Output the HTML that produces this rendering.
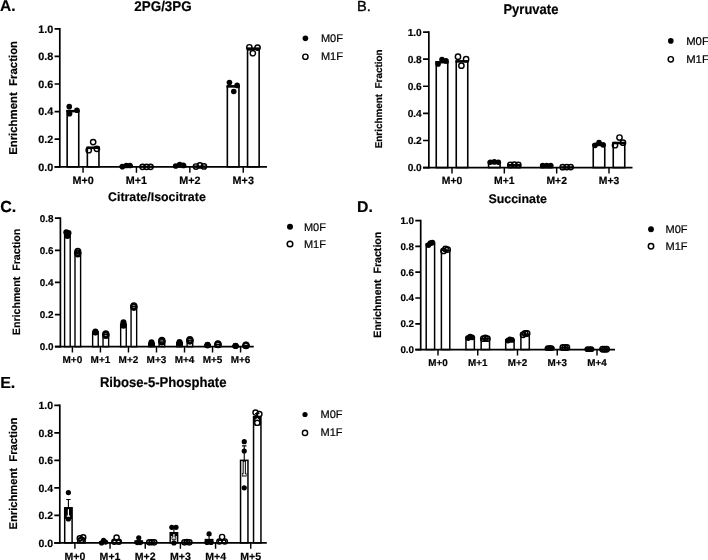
<!DOCTYPE html>
<html><head><meta charset="utf-8"><title>Enrichment Fraction</title>
<style>
html,body{margin:0;padding:0;background:#fff;width:708px;height:560px;overflow:hidden}
svg{display:block}
text{text-rendering:geometricPrecision;font-family:"Liberation Sans", sans-serif;fill:#000}
text[font-weight="bold"]{stroke:#000;stroke-width:0.18px}
</style></head><body>
<svg width="708" height="560" viewBox="0 0 708 560">
<rect width="708" height="560" fill="#fff"/>
<rect x="67.15" y="110.77" width="11.6" height="56.03" fill="#fff" stroke="#000" stroke-width="1.6"/>
<rect x="66.35" y="109.97" width="13.2" height="2.4" fill="#000"/>
<circle cx="69.25" cy="106.63" r="2.8" fill="#000"/>
<circle cx="69.55" cy="113.67" r="2.8" fill="#000"/>
<circle cx="76.95" cy="110.22" r="2.8" fill="#000"/>
<rect x="87.35" y="147.48" width="11.6" height="19.32" fill="#fff" stroke="#000" stroke-width="1.6"/>
<rect x="86.55" y="146.68" width="13.2" height="2.4" fill="#000"/>
<circle cx="93.15" cy="142.1" r="2.65" fill="none" stroke="#000" stroke-width="1.45"/>
<circle cx="88.75" cy="150.24" r="2.65" fill="none" stroke="#000" stroke-width="1.45"/>
<circle cx="96.85" cy="148.86" r="2.65" fill="none" stroke="#000" stroke-width="1.45"/>
<rect x="120.55" y="165.7" width="11.6" height="1.1" fill="#fff" stroke="#000" stroke-width="1.6"/>
<circle cx="122.35" cy="166.66" r="2.8" fill="#000"/>
<circle cx="126.35" cy="165.56" r="2.8" fill="#000"/>
<circle cx="129.95" cy="165.56" r="2.8" fill="#000"/>
<rect x="140.75" y="166.52" width="11.6" height="0.28" fill="#fff" stroke="#000" stroke-width="1.6"/>
<circle cx="142.55" cy="166.8" r="2.65" fill="none" stroke="#000" stroke-width="1.45"/>
<circle cx="146.55" cy="166.8" r="2.65" fill="none" stroke="#000" stroke-width="1.45"/>
<circle cx="150.55" cy="166.8" r="2.65" fill="none" stroke="#000" stroke-width="1.45"/>
<rect x="173.95" y="165.42" width="11.6" height="1.38" fill="#fff" stroke="#000" stroke-width="1.6"/>
<circle cx="175.75" cy="165.97" r="2.8" fill="#000"/>
<circle cx="179.75" cy="164.45" r="2.8" fill="#000"/>
<circle cx="183.35" cy="165.42" r="2.8" fill="#000"/>
<rect x="194.15" y="166.25" width="11.6" height="0.55" fill="#fff" stroke="#000" stroke-width="1.6"/>
<circle cx="195.95" cy="166.52" r="2.65" fill="none" stroke="#000" stroke-width="1.45"/>
<circle cx="199.95" cy="165.42" r="2.65" fill="none" stroke="#000" stroke-width="1.45"/>
<circle cx="203.95" cy="166.39" r="2.65" fill="none" stroke="#000" stroke-width="1.45"/>
<rect x="227.35" y="86.07" width="11.6" height="80.73" fill="#fff" stroke="#000" stroke-width="1.6"/>
<rect x="226.55" y="85.27" width="13.2" height="2.4" fill="#000"/>
<circle cx="229.45" cy="82.62" r="2.8" fill="#000"/>
<circle cx="233.75" cy="91.45" r="2.8" fill="#000"/>
<circle cx="237.15" cy="85.38" r="2.8" fill="#000"/>
<rect x="247.55" y="48.4" width="11.6" height="118.4" fill="#fff" stroke="#000" stroke-width="1.6"/>
<rect x="246.75" y="47.6" width="13.2" height="2.4" fill="#000"/>
<circle cx="249.35" cy="47.29" r="2.65" fill="none" stroke="#000" stroke-width="1.45"/>
<circle cx="257.55" cy="47.57" r="2.65" fill="none" stroke="#000" stroke-width="1.45"/>
<circle cx="252.85" cy="53.23" r="2.65" fill="none" stroke="#000" stroke-width="1.45"/>
<path d="M59.8 28.8V166.8" stroke="#000" stroke-width="1.7" fill="none" stroke-linecap="square"/>
<path d="M54.6 166.8H267" stroke="#000" stroke-width="1.7" fill="none"/>
<path d="M54.6 166.8H59.8M54.6 139.2H59.8M54.6 111.6H59.8M54.6 84H59.8M54.6 56.4H59.8M54.6 28.8H59.8" stroke="#000" stroke-width="1.7" fill="none"/>
<text x="53.2" y="166.8" dy="0.355em" text-anchor="end" font-size="10.8" font-weight="bold">0.0</text>
<text x="53.2" y="139.2" dy="0.355em" text-anchor="end" font-size="10.8" font-weight="bold">0.2</text>
<text x="53.2" y="111.6" dy="0.355em" text-anchor="end" font-size="10.8" font-weight="bold">0.4</text>
<text x="53.2" y="84" dy="0.355em" text-anchor="end" font-size="10.8" font-weight="bold">0.6</text>
<text x="53.2" y="56.4" dy="0.355em" text-anchor="end" font-size="10.8" font-weight="bold">0.8</text>
<text x="53.2" y="28.8" dy="0.355em" text-anchor="end" font-size="10.8" font-weight="bold">1.0</text>
<path d="M83.05 166.8V172.85M136.45 166.8V172.85M189.85 166.8V172.85M243.25 166.8V172.85" stroke="#000" stroke-width="1.44" fill="none"/>
<text x="83.05" y="183.9" text-anchor="middle" font-size="10.8" font-weight="bold">M+0</text>
<text x="136.45" y="183.9" text-anchor="middle" font-size="10.8" font-weight="bold">M+1</text>
<text x="189.85" y="183.9" text-anchor="middle" font-size="10.8" font-weight="bold">M+2</text>
<text x="243.25" y="183.9" text-anchor="middle" font-size="10.8" font-weight="bold">M+3</text>
<text transform="translate(17.3 97.9) rotate(-90)" text-anchor="middle" font-size="11.4" font-weight="bold" style="white-space:pre">Enrichment  Fraction</text>
<text transform="translate(163 10.5) scale(1 1.05)" text-anchor="middle" font-size="13.4" font-weight="bold">2PG/3PG</text>
<text x="0" y="11.4" font-size="15.5" font-weight="bold">A.</text>
<circle cx="305.4" cy="38.35" r="2.8" fill="#000"/>
<circle cx="305.4" cy="56.75" r="2.65" fill="none" stroke="#000" stroke-width="1.45"/>
<text x="320.9" y="41.8" font-size="11" stroke="#000" stroke-width="0.2">M0F</text>
<text x="320.9" y="60.1" font-size="11" stroke="#000" stroke-width="0.2">M1F</text>
<rect x="436.25" y="61.87" width="11.5" height="105.73" fill="#fff" stroke="#000" stroke-width="1.6"/>
<rect x="435.45" y="61.07" width="13.1" height="2.4" fill="#000"/>
<circle cx="438.1" cy="63.9" r="2.8" fill="#000"/>
<circle cx="442" cy="59.57" r="2.8" fill="#000"/>
<circle cx="446" cy="60.92" r="2.8" fill="#000"/>
<rect x="456.25" y="61.06" width="11.5" height="106.54" fill="#fff" stroke="#000" stroke-width="1.6"/>
<rect x="455.45" y="60.26" width="13.1" height="2.4" fill="#000"/>
<circle cx="458" cy="56.72" r="2.65" fill="none" stroke="#000" stroke-width="1.45"/>
<circle cx="466.1" cy="59.16" r="2.65" fill="none" stroke="#000" stroke-width="1.45"/>
<circle cx="461.4" cy="65.67" r="2.65" fill="none" stroke="#000" stroke-width="1.45"/>
<rect x="488.58" y="162.18" width="11.5" height="5.42" fill="#fff" stroke="#000" stroke-width="1.6"/>
<rect x="487.78" y="161.38" width="13.1" height="2.4" fill="#000"/>
<circle cx="490.33" cy="162.18" r="2.8" fill="#000"/>
<circle cx="494.33" cy="161.91" r="2.8" fill="#000"/>
<circle cx="498.33" cy="162.18" r="2.8" fill="#000"/>
<rect x="508.58" y="164.89" width="11.5" height="2.71" fill="#fff" stroke="#000" stroke-width="1.6"/>
<rect x="507.78" y="164.09" width="13.1" height="2.4" fill="#000"/>
<circle cx="510.33" cy="164.89" r="2.65" fill="none" stroke="#000" stroke-width="1.45"/>
<circle cx="514.33" cy="164.62" r="2.65" fill="none" stroke="#000" stroke-width="1.45"/>
<circle cx="518.33" cy="164.89" r="2.65" fill="none" stroke="#000" stroke-width="1.45"/>
<rect x="540.92" y="165.57" width="11.5" height="2.03" fill="#fff" stroke="#000" stroke-width="1.6"/>
<circle cx="542.67" cy="165.57" r="2.8" fill="#000"/>
<circle cx="546.67" cy="165.43" r="2.8" fill="#000"/>
<circle cx="550.67" cy="165.57" r="2.8" fill="#000"/>
<rect x="560.92" y="167.06" width="11.5" height="0.54" fill="#fff" stroke="#000" stroke-width="1.6"/>
<circle cx="562.67" cy="167.19" r="2.65" fill="none" stroke="#000" stroke-width="1.45"/>
<circle cx="566.67" cy="167.06" r="2.65" fill="none" stroke="#000" stroke-width="1.45"/>
<circle cx="570.67" cy="167.06" r="2.65" fill="none" stroke="#000" stroke-width="1.45"/>
<rect x="593.25" y="144.56" width="11.5" height="23.04" fill="#fff" stroke="#000" stroke-width="1.6"/>
<rect x="592.45" y="143.76" width="13.1" height="2.4" fill="#000"/>
<circle cx="595.1" cy="145.37" r="2.8" fill="#000"/>
<circle cx="599" cy="142.66" r="2.8" fill="#000"/>
<circle cx="603" cy="144.83" r="2.8" fill="#000"/>
<rect x="613.25" y="142.66" width="11.5" height="24.94" fill="#fff" stroke="#000" stroke-width="1.6"/>
<rect x="612.45" y="141.86" width="13.1" height="2.4" fill="#000"/>
<circle cx="619.5" cy="137.51" r="2.65" fill="none" stroke="#000" stroke-width="1.45"/>
<circle cx="623" cy="142.66" r="2.65" fill="none" stroke="#000" stroke-width="1.45"/>
<circle cx="615" cy="145.23" r="2.65" fill="none" stroke="#000" stroke-width="1.45"/>
<path d="M428.85 32.05V167.6" stroke="#000" stroke-width="1.7" fill="none" stroke-linecap="square"/>
<path d="M423.05 167.6H632.5" stroke="#000" stroke-width="1.7" fill="none"/>
<path d="M423.05 167.6H428.85M423.05 140.49H428.85M423.05 113.38H428.85M423.05 86.27H428.85M423.05 59.16H428.85M423.05 32.05H428.85" stroke="#000" stroke-width="1.7" fill="none"/>
<text x="421.8" y="167.6" dy="0.355em" text-anchor="end" font-size="10.2" font-weight="bold">0.0</text>
<text x="421.8" y="140.49" dy="0.355em" text-anchor="end" font-size="10.2" font-weight="bold">0.2</text>
<text x="421.8" y="113.38" dy="0.355em" text-anchor="end" font-size="10.2" font-weight="bold">0.4</text>
<text x="421.8" y="86.27" dy="0.355em" text-anchor="end" font-size="10.2" font-weight="bold">0.6</text>
<text x="421.8" y="59.16" dy="0.355em" text-anchor="end" font-size="10.2" font-weight="bold">0.8</text>
<text x="421.8" y="32.05" dy="0.355em" text-anchor="end" font-size="10.2" font-weight="bold">1.0</text>
<path d="M452 167.6V173.55M504.33 167.6V173.55M556.67 167.6V173.55M609 167.6V173.55" stroke="#000" stroke-width="1.44" fill="none"/>
<text x="452" y="184.2" text-anchor="middle" font-size="10.4" font-weight="bold">M+0</text>
<text x="504.33" y="184.2" text-anchor="middle" font-size="10.4" font-weight="bold">M+1</text>
<text x="556.67" y="184.2" text-anchor="middle" font-size="10.4" font-weight="bold">M+2</text>
<text x="609" y="184.2" text-anchor="middle" font-size="10.4" font-weight="bold">M+3</text>
<text transform="translate(381.7 98.9) rotate(-90)" text-anchor="middle" font-size="9.9" font-weight="bold" style="white-space:pre">Enrichment  Fraction</text>
<text transform="translate(530.9 13.6) scale(1 1.08)" text-anchor="middle" font-size="13.0" font-weight="bold">Pyruvate</text>
<text x="357" y="11.4" font-size="14.6" font-weight="normal" stroke="#000" stroke-width="0.35">B.</text>
<circle cx="670.8" cy="40.9" r="2.8" fill="#000"/>
<circle cx="670.8" cy="59.3" r="2.65" fill="none" stroke="#000" stroke-width="1.45"/>
<text x="686.2" y="44.5" font-size="11.3" stroke="#000" stroke-width="0.2">M0F</text>
<text x="686.2" y="63" font-size="11.3" stroke="#000" stroke-width="0.2">M1F</text>
<rect x="64.6" y="233.8" width="5.6" height="112.9" fill="#fff" stroke="#000" stroke-width="1.4"/>
<circle cx="66.3" cy="232.35" r="3.0" fill="#000"/>
<circle cx="68.5" cy="233" r="3.0" fill="#000"/>
<circle cx="67.4" cy="235.89" r="3.0" fill="#000"/>
<rect x="75" y="252.75" width="5.6" height="93.95" fill="#fff" stroke="#000" stroke-width="1.4"/>
<circle cx="77.8" cy="251.3" r="2.8" fill="none" stroke="#000" stroke-width="1.5"/>
<circle cx="77.8" cy="252.75" r="2.8" fill="none" stroke="#000" stroke-width="1.5"/>
<circle cx="77.8" cy="253.87" r="2.8" fill="none" stroke="#000" stroke-width="1.5"/>
<rect x="92.63" y="332.25" width="5.6" height="14.45" fill="#fff" stroke="#000" stroke-width="1.4"/>
<circle cx="95.43" cy="331.44" r="3.0" fill="#000"/>
<circle cx="95.43" cy="332.25" r="3.0" fill="#000"/>
<circle cx="95.43" cy="332.57" r="3.0" fill="#000"/>
<rect x="103.03" y="334.65" width="5.6" height="12.05" fill="#fff" stroke="#000" stroke-width="1.4"/>
<circle cx="105.83" cy="333.85" r="2.8" fill="none" stroke="#000" stroke-width="1.5"/>
<circle cx="105.83" cy="334.65" r="2.8" fill="none" stroke="#000" stroke-width="1.5"/>
<circle cx="105.83" cy="335.46" r="2.8" fill="none" stroke="#000" stroke-width="1.5"/>
<rect x="120.66" y="324.22" width="5.6" height="22.48" fill="#fff" stroke="#000" stroke-width="1.4"/>
<circle cx="123.46" cy="322.29" r="3.0" fill="#000"/>
<circle cx="123.46" cy="324.22" r="3.0" fill="#000"/>
<circle cx="123.46" cy="325.82" r="3.0" fill="#000"/>
<rect x="131.06" y="306.55" width="5.6" height="40.15" fill="#fff" stroke="#000" stroke-width="1.4"/>
<circle cx="133.86" cy="305.75" r="2.8" fill="none" stroke="#000" stroke-width="1.5"/>
<circle cx="133.86" cy="306.55" r="2.8" fill="none" stroke="#000" stroke-width="1.5"/>
<circle cx="133.86" cy="307.35" r="2.8" fill="none" stroke="#000" stroke-width="1.5"/>
<rect x="148.69" y="343.49" width="5.6" height="3.21" fill="#fff" stroke="#000" stroke-width="1.4"/>
<circle cx="151.49" cy="342.2" r="3.0" fill="#000"/>
<circle cx="151.49" cy="343.49" r="3.0" fill="#000"/>
<circle cx="151.49" cy="344.29" r="3.0" fill="#000"/>
<rect x="159.09" y="341.08" width="5.6" height="5.62" fill="#fff" stroke="#000" stroke-width="1.4"/>
<circle cx="161.89" cy="340.28" r="2.8" fill="none" stroke="#000" stroke-width="1.5"/>
<circle cx="161.89" cy="341.08" r="2.8" fill="none" stroke="#000" stroke-width="1.5"/>
<circle cx="161.89" cy="341.88" r="2.8" fill="none" stroke="#000" stroke-width="1.5"/>
<rect x="176.72" y="342.69" width="5.6" height="4.01" fill="#fff" stroke="#000" stroke-width="1.4"/>
<circle cx="179.52" cy="341.88" r="3.0" fill="#000"/>
<circle cx="179.52" cy="342.69" r="3.0" fill="#000"/>
<circle cx="179.52" cy="343.49" r="3.0" fill="#000"/>
<rect x="187.12" y="340.28" width="5.6" height="6.42" fill="#fff" stroke="#000" stroke-width="1.4"/>
<circle cx="189.92" cy="339.47" r="2.8" fill="none" stroke="#000" stroke-width="1.5"/>
<circle cx="189.92" cy="340.28" r="2.8" fill="none" stroke="#000" stroke-width="1.5"/>
<circle cx="189.92" cy="341.08" r="2.8" fill="none" stroke="#000" stroke-width="1.5"/>
<rect x="204.75" y="345.09" width="5.6" height="1.61" fill="#fff" stroke="#000" stroke-width="1.4"/>
<circle cx="207.55" cy="344.77" r="3.0" fill="#000"/>
<circle cx="207.55" cy="345.09" r="3.0" fill="#000"/>
<circle cx="207.55" cy="345.42" r="3.0" fill="#000"/>
<rect x="215.15" y="344.29" width="5.6" height="2.41" fill="#fff" stroke="#000" stroke-width="1.4"/>
<circle cx="217.95" cy="343.81" r="2.8" fill="none" stroke="#000" stroke-width="1.5"/>
<circle cx="217.95" cy="344.29" r="2.8" fill="none" stroke="#000" stroke-width="1.5"/>
<circle cx="217.95" cy="344.77" r="2.8" fill="none" stroke="#000" stroke-width="1.5"/>
<rect x="232.78" y="345.9" width="5.6" height="0.8" fill="#fff" stroke="#000" stroke-width="1.4"/>
<circle cx="235.58" cy="345.74" r="3.0" fill="#000"/>
<circle cx="235.58" cy="345.9" r="3.0" fill="#000"/>
<circle cx="235.58" cy="346.06" r="3.0" fill="#000"/>
<rect x="243.18" y="345.42" width="5.6" height="1.28" fill="#fff" stroke="#000" stroke-width="1.4"/>
<circle cx="245.98" cy="345.09" r="2.8" fill="none" stroke="#000" stroke-width="1.5"/>
<circle cx="245.98" cy="345.42" r="2.8" fill="none" stroke="#000" stroke-width="1.5"/>
<circle cx="245.98" cy="345.74" r="2.8" fill="none" stroke="#000" stroke-width="1.5"/>
<path d="M60.4 218.22V346.7" stroke="#000" stroke-width="1.7" fill="none" stroke-linecap="square"/>
<path d="M54.9 346.7H253.75" stroke="#000" stroke-width="1.7" fill="none"/>
<path d="M54.9 346.7H60.4M54.9 314.58H60.4M54.9 282.46H60.4M54.9 250.34H60.4M54.9 218.22H60.4" stroke="#000" stroke-width="1.7" fill="none"/>
<text x="53.4" y="346.7" dy="0.355em" text-anchor="end" font-size="9.9" font-weight="bold">0.0</text>
<text x="53.4" y="314.58" dy="0.355em" text-anchor="end" font-size="9.9" font-weight="bold">0.2</text>
<text x="53.4" y="282.46" dy="0.355em" text-anchor="end" font-size="9.9" font-weight="bold">0.4</text>
<text x="53.4" y="250.34" dy="0.355em" text-anchor="end" font-size="9.9" font-weight="bold">0.6</text>
<text x="53.4" y="218.22" dy="0.355em" text-anchor="end" font-size="9.9" font-weight="bold">0.8</text>
<path d="M72.4 346.7V352.55M100.43 346.7V352.55M128.46 346.7V352.55M156.49 346.7V352.55M184.52 346.7V352.55M212.55 346.7V352.55M240.58 346.7V352.55" stroke="#000" stroke-width="1.44" fill="none"/>
<text x="72.4" y="362.9" text-anchor="middle" font-size="10.0" font-weight="bold">M+0</text>
<text x="100.43" y="362.9" text-anchor="middle" font-size="10.0" font-weight="bold">M+1</text>
<text x="128.46" y="362.9" text-anchor="middle" font-size="10.0" font-weight="bold">M+2</text>
<text x="156.49" y="362.9" text-anchor="middle" font-size="10.0" font-weight="bold">M+3</text>
<text x="184.52" y="362.9" text-anchor="middle" font-size="10.0" font-weight="bold">M+4</text>
<text x="212.55" y="362.9" text-anchor="middle" font-size="10.0" font-weight="bold">M+5</text>
<text x="240.58" y="362.9" text-anchor="middle" font-size="10.0" font-weight="bold">M+6</text>
<text transform="translate(19.9 282) rotate(-90)" text-anchor="middle" font-size="10.65" font-weight="bold" style="white-space:pre">Enrichment  Fraction</text>
<text x="156.9" y="200.5" text-anchor="middle" font-size="12.4" font-weight="bold">Citrate/Isocitrate</text>
<text x="0.2" y="211.6" font-size="16.0" font-weight="bold">C.</text>
<circle cx="290" cy="226.75" r="3.0" fill="#000"/>
<circle cx="290" cy="244" r="2.8" fill="none" stroke="#000" stroke-width="1.5"/>
<text x="303.9" y="230.6" font-size="11" stroke="#000" stroke-width="0.2">M0F</text>
<text x="303.9" y="247.8" font-size="11" stroke="#000" stroke-width="0.2">M1F</text>
<rect x="426.2" y="243.82" width="8.4" height="105.78" fill="#fff" stroke="#000" stroke-width="1.5"/>
<circle cx="428.4" cy="245.11" r="2.9" fill="#000"/>
<circle cx="430.4" cy="243.18" r="2.9" fill="#000"/>
<circle cx="432.4" cy="242.53" r="2.9" fill="#000"/>
<rect x="441.4" y="250.27" width="8.4" height="99.33" fill="#fff" stroke="#000" stroke-width="1.5"/>
<circle cx="443.6" cy="250.92" r="2.7" fill="none" stroke="#000" stroke-width="1.5"/>
<circle cx="445.6" cy="248.98" r="2.7" fill="none" stroke="#000" stroke-width="1.5"/>
<circle cx="447.6" cy="249.62" r="2.7" fill="none" stroke="#000" stroke-width="1.5"/>
<rect x="465.95" y="337.35" width="8.4" height="12.25" fill="#fff" stroke="#000" stroke-width="1.5"/>
<circle cx="468.15" cy="337.99" r="2.9" fill="#000"/>
<circle cx="470.15" cy="336.7" r="2.9" fill="#000"/>
<circle cx="472.15" cy="337.35" r="2.9" fill="#000"/>
<rect x="481.15" y="338.64" width="8.4" height="10.96" fill="#fff" stroke="#000" stroke-width="1.5"/>
<circle cx="483.35" cy="338.64" r="2.7" fill="none" stroke="#000" stroke-width="1.5"/>
<circle cx="485.35" cy="337.99" r="2.7" fill="none" stroke="#000" stroke-width="1.5"/>
<circle cx="487.35" cy="338.64" r="2.7" fill="none" stroke="#000" stroke-width="1.5"/>
<rect x="505.7" y="339.93" width="8.4" height="9.68" fill="#fff" stroke="#000" stroke-width="1.5"/>
<circle cx="507.9" cy="340.57" r="2.9" fill="#000"/>
<circle cx="509.9" cy="339.28" r="2.9" fill="#000"/>
<circle cx="511.9" cy="339.93" r="2.9" fill="#000"/>
<rect x="520.9" y="334.12" width="8.4" height="15.48" fill="#fff" stroke="#000" stroke-width="1.5"/>
<circle cx="523.1" cy="334.77" r="2.7" fill="none" stroke="#000" stroke-width="1.5"/>
<circle cx="525.1" cy="333.48" r="2.7" fill="none" stroke="#000" stroke-width="1.5"/>
<circle cx="527.1" cy="333.48" r="2.7" fill="none" stroke="#000" stroke-width="1.5"/>
<rect x="545.45" y="348.05" width="8.4" height="1.55" fill="#fff" stroke="#000" stroke-width="1.5"/>
<circle cx="547.65" cy="348.05" r="2.9" fill="#000"/>
<circle cx="549.65" cy="347.92" r="2.9" fill="#000"/>
<circle cx="551.65" cy="348.05" r="2.9" fill="#000"/>
<rect x="560.65" y="347.54" width="8.4" height="2.06" fill="#fff" stroke="#000" stroke-width="1.5"/>
<circle cx="562.85" cy="347.54" r="2.7" fill="none" stroke="#000" stroke-width="1.5"/>
<circle cx="564.85" cy="347.41" r="2.7" fill="none" stroke="#000" stroke-width="1.5"/>
<circle cx="566.85" cy="347.54" r="2.7" fill="none" stroke="#000" stroke-width="1.5"/>
<rect x="585.2" y="349.21" width="8.4" height="0.39" fill="#fff" stroke="#000" stroke-width="1.5"/>
<circle cx="587.4" cy="349.21" r="2.9" fill="#000"/>
<circle cx="589.4" cy="349.21" r="2.9" fill="#000"/>
<circle cx="591.4" cy="349.21" r="2.9" fill="#000"/>
<rect x="600.4" y="349.21" width="8.4" height="0.39" fill="#fff" stroke="#000" stroke-width="1.5"/>
<circle cx="602.6" cy="349.21" r="2.7" fill="none" stroke="#000" stroke-width="1.5"/>
<circle cx="604.6" cy="349.21" r="2.7" fill="none" stroke="#000" stroke-width="1.5"/>
<circle cx="606.6" cy="349.21" r="2.7" fill="none" stroke="#000" stroke-width="1.5"/>
<path d="M420.7 220.6V349.6" stroke="#000" stroke-width="1.7" fill="none" stroke-linecap="square"/>
<path d="M415.3 349.6H615" stroke="#000" stroke-width="1.7" fill="none"/>
<path d="M415.3 349.6H420.7M415.3 323.8H420.7M415.3 298H420.7M415.3 272.2H420.7M415.3 246.4H420.7M415.3 220.6H420.7" stroke="#000" stroke-width="1.7" fill="none"/>
<text x="414" y="349.6" dy="0.355em" text-anchor="end" font-size="9.8" font-weight="bold">0.0</text>
<text x="414" y="323.8" dy="0.355em" text-anchor="end" font-size="9.8" font-weight="bold">0.2</text>
<text x="414" y="298" dy="0.355em" text-anchor="end" font-size="9.8" font-weight="bold">0.4</text>
<text x="414" y="272.2" dy="0.355em" text-anchor="end" font-size="9.8" font-weight="bold">0.6</text>
<text x="414" y="246.4" dy="0.355em" text-anchor="end" font-size="9.8" font-weight="bold">0.8</text>
<text x="414" y="220.6" dy="0.355em" text-anchor="end" font-size="9.8" font-weight="bold">1.0</text>
<path d="M438 349.6V355.45M477.75 349.6V355.45M517.5 349.6V355.45M557.25 349.6V355.45M597 349.6V355.45" stroke="#000" stroke-width="1.44" fill="none"/>
<text x="438" y="365.8" text-anchor="middle" font-size="9.9" font-weight="bold">M+0</text>
<text x="477.75" y="365.8" text-anchor="middle" font-size="9.9" font-weight="bold">M+1</text>
<text x="517.5" y="365.8" text-anchor="middle" font-size="9.9" font-weight="bold">M+2</text>
<text x="557.25" y="365.8" text-anchor="middle" font-size="9.9" font-weight="bold">M+3</text>
<text x="597" y="365.8" text-anchor="middle" font-size="9.9" font-weight="bold">M+4</text>
<text transform="translate(381 284.7) rotate(-90)" text-anchor="middle" font-size="10.6" font-weight="bold" style="white-space:pre">Enrichment  Fraction</text>
<text x="517.7" y="203.1" text-anchor="middle" font-size="12.4" font-weight="bold">Succinate</text>
<text x="357" y="211.6" font-size="15.8" font-weight="bold">D.</text>
<circle cx="651" cy="229.25" r="2.9" fill="#000"/>
<circle cx="651" cy="246.25" r="2.7" fill="none" stroke="#000" stroke-width="1.5"/>
<text x="665.5" y="232.9" font-size="11" stroke="#000" stroke-width="0.2">M0F</text>
<text x="665.5" y="249.9" font-size="11" stroke="#000" stroke-width="0.2">M1F</text>
<rect x="64.7" y="507.81" width="7.4" height="35.09" fill="#fff" stroke="#000" stroke-width="1.5"/>
<rect x="64.7" y="507.81" width="7.4" height="11.15" fill="#000"/>
<circle cx="68.4" cy="492.54" r="2.6" fill="#000"/>
<circle cx="68.4" cy="512.49" r="2.6" fill="#000"/>
<circle cx="68.4" cy="518.96" r="2.6" fill="#000"/>
<path d="M68.4 507.81V499.56M66.2 499.56H70.6" stroke="#000" stroke-width="1.1" fill="none"/>
<path d="M68.4 508.56V516.07M66.1 516.07H70.7" stroke="#000" stroke-width="3.2" fill="none"/>
<path d="M68.4 509.16V516.07M66.7 516.07H70.1" stroke="#fff" stroke-width="1.2" fill="none"/>
<rect x="77.7" y="538.36" width="7.4" height="4.54" fill="#fff" stroke="#000" stroke-width="1.5"/>
<circle cx="79.8" cy="538.36" r="2.6" fill="none" stroke="#000" stroke-width="1.4"/>
<circle cx="83.2" cy="537.4" r="2.6" fill="none" stroke="#000" stroke-width="1.4"/>
<circle cx="81.6" cy="539.87" r="2.6" fill="none" stroke="#000" stroke-width="1.4"/>
<rect x="99.87" y="541.8" width="7.4" height="1.1" fill="#fff" stroke="#000" stroke-width="1.5"/>
<circle cx="101.57" cy="542.9" r="2.6" fill="#000"/>
<circle cx="105.57" cy="542.07" r="2.6" fill="#000"/>
<circle cx="103.57" cy="540.42" r="2.6" fill="#000"/>
<rect x="112.87" y="540.15" width="7.4" height="2.75" fill="#fff" stroke="#000" stroke-width="1.5"/>
<circle cx="116.57" cy="537.67" r="2.6" fill="none" stroke="#000" stroke-width="1.4"/>
<circle cx="114.37" cy="541.8" r="2.6" fill="none" stroke="#000" stroke-width="1.4"/>
<circle cx="118.77" cy="541.8" r="2.6" fill="none" stroke="#000" stroke-width="1.4"/>
<rect x="135.04" y="541.11" width="7.4" height="1.79" fill="#fff" stroke="#000" stroke-width="1.5"/>
<circle cx="138.74" cy="537.81" r="2.6" fill="#000"/>
<circle cx="137.24" cy="542.62" r="2.6" fill="#000"/>
<circle cx="140.24" cy="542.62" r="2.6" fill="#000"/>
<rect x="148.04" y="542.35" width="7.4" height="0.55" fill="#fff" stroke="#000" stroke-width="1.5"/>
<circle cx="149.24" cy="542.35" r="2.6" fill="none" stroke="#000" stroke-width="1.4"/>
<circle cx="151.74" cy="542.21" r="2.6" fill="none" stroke="#000" stroke-width="1.4"/>
<circle cx="154.24" cy="542.35" r="2.6" fill="none" stroke="#000" stroke-width="1.4"/>
<rect x="170.21" y="532.72" width="7.4" height="10.18" fill="#fff" stroke="#000" stroke-width="1.5"/>
<rect x="170.21" y="532.72" width="7.4" height="3.3" fill="#000"/>
<circle cx="171.81" cy="527.35" r="2.6" fill="#000"/>
<circle cx="176.01" cy="527.35" r="2.6" fill="#000"/>
<circle cx="173.91" cy="542.9" r="2.6" fill="#000"/>
<path d="M173.91 532.72V527.21M171.71 527.21H176.11" stroke="#000" stroke-width="1.1" fill="none"/>
<path d="M173.91 533.47V538.22M171.61 538.22H176.21" stroke="#000" stroke-width="3.2" fill="none"/>
<path d="M173.91 534.07V538.22M172.21 538.22H175.61" stroke="#fff" stroke-width="1.2" fill="none"/>
<rect x="183.21" y="542.21" width="7.4" height="0.69" fill="#fff" stroke="#000" stroke-width="1.5"/>
<circle cx="184.41" cy="542.35" r="2.6" fill="none" stroke="#000" stroke-width="1.4"/>
<circle cx="186.91" cy="542.07" r="2.6" fill="none" stroke="#000" stroke-width="1.4"/>
<circle cx="189.41" cy="542.35" r="2.6" fill="none" stroke="#000" stroke-width="1.4"/>
<rect x="205.38" y="539.6" width="7.4" height="3.3" fill="#fff" stroke="#000" stroke-width="1.5"/>
<rect x="205.38" y="539.6" width="7.4" height="3.3" fill="#000"/>
<circle cx="209.08" cy="533.82" r="2.6" fill="#000"/>
<circle cx="207.08" cy="542.49" r="2.6" fill="#000"/>
<circle cx="211.08" cy="542.49" r="2.6" fill="#000"/>
<path d="M209.08 539.6V535.47M206.88 535.47H211.28" stroke="#000" stroke-width="1.1" fill="none"/>
<rect x="218.38" y="540.15" width="7.4" height="2.75" fill="#fff" stroke="#000" stroke-width="1.5"/>
<circle cx="222.08" cy="536.98" r="2.6" fill="none" stroke="#000" stroke-width="1.4"/>
<circle cx="219.38" cy="541.52" r="2.6" fill="none" stroke="#000" stroke-width="1.4"/>
<circle cx="224.78" cy="541.52" r="2.6" fill="none" stroke="#000" stroke-width="1.4"/>
<rect x="240.55" y="460.34" width="7.4" height="82.56" fill="#fff" stroke="#000" stroke-width="1.5"/>
<circle cx="244.25" cy="441.63" r="2.6" fill="#000"/>
<circle cx="244.25" cy="450.98" r="2.6" fill="#000"/>
<circle cx="244.25" cy="487.86" r="2.6" fill="#000"/>
<path d="M244.25 460.34V445.89M242.05 445.89H246.45" stroke="#000" stroke-width="1.1" fill="none"/>
<path d="M244.25 461.09V474.79M241.95 474.79H246.55" stroke="#000" stroke-width="3.2" fill="none"/>
<path d="M244.25 461.69V474.79M242.55 474.79H245.95" stroke="#fff" stroke-width="1.2" fill="none"/>
<rect x="253.55" y="416.58" width="7.4" height="126.32" fill="#fff" stroke="#000" stroke-width="1.5"/>
<rect x="253.55" y="416.58" width="7.4" height="8.67" fill="#000"/>
<circle cx="255.55" cy="412.59" r="2.6" fill="none" stroke="#000" stroke-width="1.4"/>
<circle cx="259.35" cy="414.11" r="2.6" fill="none" stroke="#000" stroke-width="1.4"/>
<circle cx="257.25" cy="422.78" r="2.6" fill="none" stroke="#000" stroke-width="1.4"/>
<path d="M257.25 416.58V413.56M255.05 413.56H259.45" stroke="#000" stroke-width="1.1" fill="none"/>
<path d="M257.25 417.33V419.61M254.95 419.61H259.55" stroke="#000" stroke-width="3.2" fill="none"/>
<path d="M257.25 417.93V419.61M255.55 419.61H258.95" stroke="#fff" stroke-width="1.2" fill="none"/>
<circle cx="257.25" cy="422.78" r="2.6" fill="#fff" stroke="#000" stroke-width="1.4"/>
<path d="M59.8 405.3V542.9" stroke="#000" stroke-width="1.7" fill="none" stroke-linecap="square"/>
<path d="M54.3 542.9H266.75" stroke="#000" stroke-width="1.7" fill="none"/>
<path d="M54.3 542.9H59.8M54.3 515.38H59.8M54.3 487.86H59.8M54.3 460.34H59.8M54.3 432.82H59.8M54.3 405.3H59.8" stroke="#000" stroke-width="1.7" fill="none"/>
<text x="53" y="542.9" dy="0.355em" text-anchor="end" font-size="10.5" font-weight="bold">0.0</text>
<text x="53" y="515.38" dy="0.355em" text-anchor="end" font-size="10.5" font-weight="bold">0.2</text>
<text x="53" y="487.86" dy="0.355em" text-anchor="end" font-size="10.5" font-weight="bold">0.4</text>
<text x="53" y="460.34" dy="0.355em" text-anchor="end" font-size="10.5" font-weight="bold">0.6</text>
<text x="53" y="432.82" dy="0.355em" text-anchor="end" font-size="10.5" font-weight="bold">0.8</text>
<text x="53" y="405.3" dy="0.355em" text-anchor="end" font-size="10.5" font-weight="bold">1.0</text>
<path d="M74.9 542.9V548.75M110.07 542.9V548.75M145.24 542.9V548.75M180.41 542.9V548.75M215.58 542.9V548.75M250.75 542.9V548.75" stroke="#000" stroke-width="1.44" fill="none"/>
<text x="74.9" y="559.6" text-anchor="middle" font-size="10.6" font-weight="bold">M+0</text>
<text x="110.07" y="559.6" text-anchor="middle" font-size="10.6" font-weight="bold">M+1</text>
<text x="145.24" y="559.6" text-anchor="middle" font-size="10.6" font-weight="bold">M+2</text>
<text x="180.41" y="559.6" text-anchor="middle" font-size="10.6" font-weight="bold">M+3</text>
<text x="215.58" y="559.6" text-anchor="middle" font-size="10.6" font-weight="bold">M+4</text>
<text x="250.75" y="559.6" text-anchor="middle" font-size="10.6" font-weight="bold">M+5</text>
<text transform="translate(17.3 473.5) rotate(-90)" text-anchor="middle" font-size="11.2" font-weight="bold" style="white-space:pre">Enrichment  Fraction</text>
<text transform="translate(163.2 386.6) scale(1 1.08)" text-anchor="middle" font-size="13.1" font-weight="bold">Ribose-5-Phosphate</text>
<text x="0.2" y="387.8" font-size="16.0" font-weight="bold">E.</text>
<circle cx="305" cy="414.5" r="2.6" fill="#000"/>
<circle cx="305" cy="432.9" r="2.6" fill="none" stroke="#000" stroke-width="1.4"/>
<text x="320.5" y="418" font-size="11" stroke="#000" stroke-width="0.2">M0F</text>
<text x="320.5" y="436.3" font-size="11" stroke="#000" stroke-width="0.2">M1F</text>
</svg>
</body></html>
